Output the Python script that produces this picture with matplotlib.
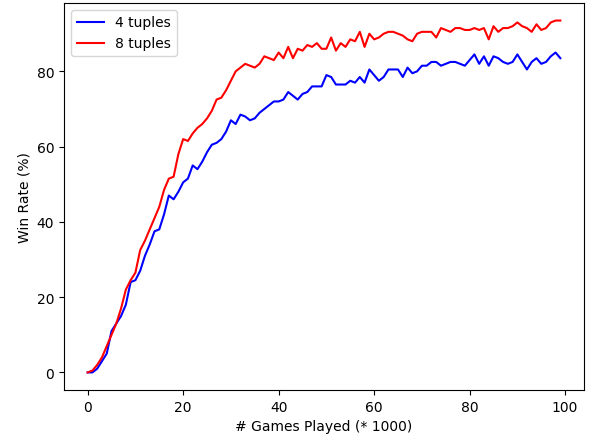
import matplotlib
matplotlib.use('Agg')
import matplotlib.pyplot as plt

games = list(range(100))

win_4 = [0, 0, 1, 3, 5, 11, 13, 15, 18, 24,
	24.5, 27, 31, 34, 37.5, 38, 42, 47, 46, 48,
	50.5, 51.5, 55, 54, 56, 58.5, 60.5, 61, 62, 64,
	67, 66, 68.5, 68, 67, 67.5, 69, 70, 71, 72,
	72, 72.5, 74.5, 73.5, 72.5, 74, 74.5, 76, 76, 76,
	79, 78.5, 76.5, 76.5, 76.5, 77.5, 77, 78.5, 77, 80.5,
	79, 77.5, 78.5, 80.5, 80.5, 80.5, 78.5, 81, 79.5, 80,
	81.5, 81.5, 82.5, 82.5, 81.5, 82, 82.5, 82.5, 82, 81.5,
	83, 84.5, 82, 84, 81.5, 84, 83.5, 82.5, 82, 82.5,
	84.5, 82.5, 80.5, 82.5, 83.5, 82, 82.5, 84, 85, 83.5]

win_8 = [0, 0.5, 2, 4, 7, 10, 13, 17, 22, 24.5,
	26.5, 32.5, 35, 38, 41, 44, 48.5, 51.5, 52, 58,
	62, 61.5, 63.5, 65, 66, 67.5, 69.5, 72.5, 73, 75,
	77.5, 80, 81, 82, 81.5, 81, 82, 84, 83.5, 83,
	85, 83.5, 86.5, 83.5, 86, 85.5, 87, 86.5, 87.5, 86,
	86, 89, 85.5, 87.5, 86.5, 88.5, 88, 90.5, 86.5, 90,
	88.5, 89, 90, 90.5, 90.5, 90, 89.5, 88.5, 88, 90,
	90.5, 90.5, 90.5, 89, 91.5, 91, 90.5, 91.5, 91.5, 91,
	91, 91.5, 91, 91.5, 88.5, 92, 90.5, 91.5, 91.5, 92,
	93, 92, 91.5, 90.5, 92.5, 91, 91.5, 93, 93.5, 93.5]

fig = plt.figure(figsize=(5.9, 4.39), dpi=100)
fig.subplots_adjust(left=0.1085, right=0.9898, bottom=0.1093, top=0.991)

plt.plot(games, win_4, 'b-', label='4 tuples')
plt.plot(games, win_8, 'r-', label='8 tuples')

plt.xlabel('# Games Played (* 1000)')
plt.ylabel('Win Rate (%)')
plt.legend(loc='upper left')

plt.savefig('out.png')
